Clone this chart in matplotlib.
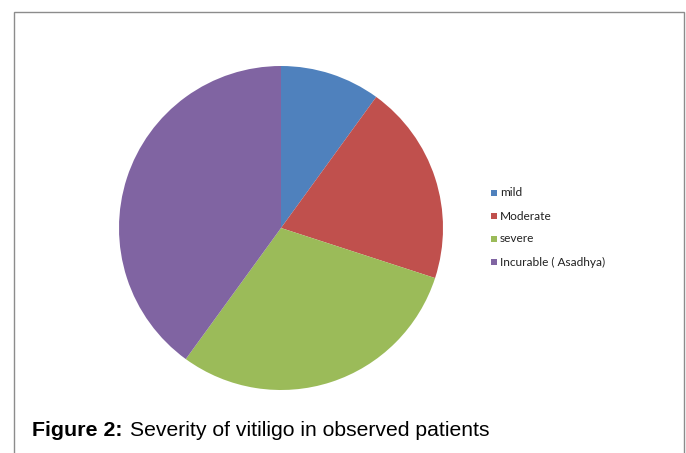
import matplotlib.pyplot as plt
from matplotlib.patches import Rectangle

categories = ['mild', 'Moderate', 'severe', 'Incurable ( Asadhya)']
values = [10, 20, 30, 40]
colors = ['#4F81BD', '#C0504D', '#9BBB59', '#8064A2']

W, H = 686, 453
fig = plt.figure(figsize=(W / 100, H / 100), dpi=100)

# outer frame (open at the bottom)
frame = Rectangle((14 / W, -0.05), (684 - 14) / W, 1.05 - 12 / H,
                  transform=fig.transFigure, facecolor='none',
                  edgecolor='#8c8c8c', linewidth=1.0)
fig.patches.append(frame)

# pie axes: center (281, 228) px, radius 162 px
cx, cy, r = 281, 228, 162
ax = fig.add_axes([(cx - r) / W, 1 - (cy + r) / H, 2 * r / W, 2 * r / H])
wedges, _ = ax.pie(values, colors=colors, startangle=90, counterclock=False,
                   radius=1, wedgeprops=dict(linewidth=0))
ax.set_xlim(-1, 1)
ax.set_ylim(-1, 1)
ax.set_aspect('equal')
ax.axis('off')

# legend
leg_y = [193, 216, 239, 262]
for name, col, y in zip(categories, colors, leg_y):
    fig.patches.append(Rectangle((491 / W, 1 - (y + 3) / H), 6 / W, 6 / H,
                                 transform=fig.transFigure, facecolor=col,
                                 edgecolor='none'))
    fig.text(500 / W, 1 - y / H, name, fontsize=8.6, family='Lato',
             va='center', ha='left', color='#222222')

# caption
fig.text(32 / W, 1 - 431 / H, 'Figure 2:', fontsize=15.4, fontweight='bold',
         family='Liberation Sans', va='center', ha='left')
fig.text(130 / W, 1 - 431 / H, 'Severity of vitiligo in observed patients',
         fontsize=15.2, family='Liberation Sans', va='center', ha='left')

fig.savefig('out.png', dpi=100)
